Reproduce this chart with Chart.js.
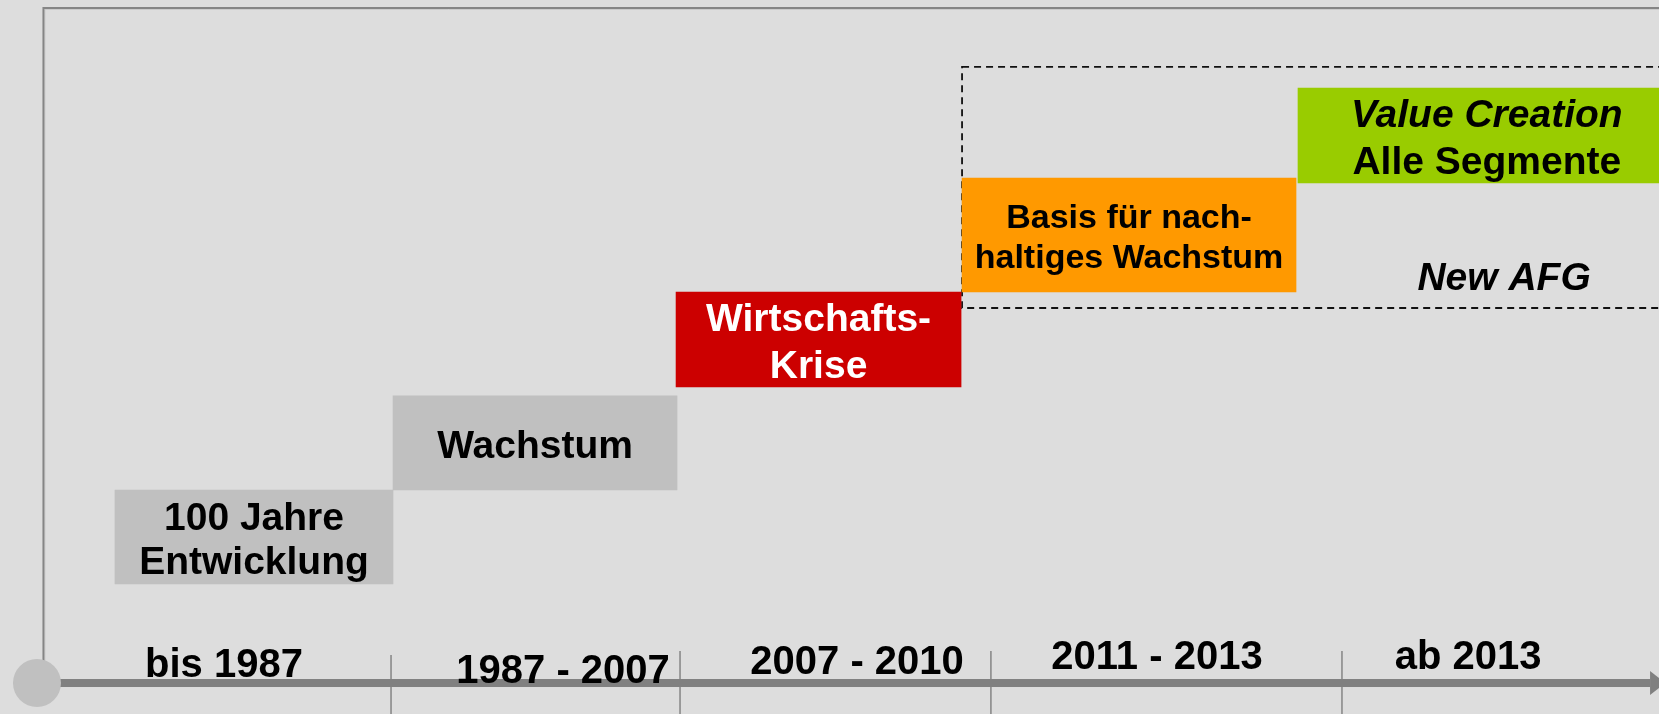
<!DOCTYPE html>
<html>
<head>
<meta charset="utf-8">
<script src="https://cdn.jsdelivr.net/npm/chart.js@4.4.1/dist/chart.umd.min.js"></script>
<style>
  html, body { margin: 0; padding: 0; background: #dddddd; overflow: hidden; }
  #timeline { display: block; }
</style>
</head>
<body>
<canvas id="timeline" width="1659" height="714"></canvas>
<script>
// all values in percent of the picture (x from left, y from bottom)
const phaseLines = [
    ['100 Jahre', 'Entwicklung'],
    ['Wachstum'],
    ['Wirtschafts-', 'Krise'],
    ['Basis für nach-', 'haltiges Wachstum'],
    ['Value Creation', 'Alle Segmente']
];
const phaseStart = [6.93, 23.69, 40.75, 57.99, 78.24];
const phaseEnd = [23.69, 40.81, 57.93, 78.12, 101];
const phaseLevel = [24.79, 37.96, 52.45, 67.09, 81.02];
const phaseHeight = [13.17, 13.17, 13.31, 15.97, 13.31];

const periods = ['bis 1987', '1987 - 2007', '2007 - 2010', '2011 - 2013', 'ab 2013'];
const periodX = [13.5, 33.94, 51.66, 69.74, 88.49];
const periodY = [5.18, 4.34, 5.6, 6.3, 6.3];
const periodBounds = [23.57, 40.99, 59.73, 80.89];
const boundTop = [8.26, 8.82, 8.82, 8.82];

const groupLabel = 'New AFG';
const groupX = 90.66, groupY = 59.38;
const groupBox = [57.99, 101, 56.86, 90.62]; // x0, x1, y0, y1

const axisLevel = 4.34, axisStart = 2.23, axisEnd = 99.46, arrowTip = 100.4;
const frameLeft = 2.62, frameTop = 98.88;

const phaseColors = ['#c0c0c0', '#c0c0c0', '#cc0000', '#ff9900', '#99cc00'];
const textColors = ['#000', '#000', '#fff', '#000', '#000'];
const fontSizes = [39, 39, 39, 34, 39];
const lineHeights = [44, 44, 47, 40, 47];
const FONT = 'Arial, "Liberation Sans", sans-serif';
const H = 714;

// Decorations behind the bars: frame, dashed group box, time axis
const backdrop = {
    id: 'backdrop',
    beforeDatasetsDraw(chart) {
        const ctx = chart.ctx;
        const xs = chart.scales.x, ys = chart.scales.y;
        const X = v => xs.getPixelForValue(v), Y = v => ys.getPixelForValue(v);
        ctx.save();

        // frame (top + left), with light inner edge
        const fl = X(frameLeft), ft = Y(frameTop), ay = Y(axisLevel);
        ctx.strokeStyle = '#cbcbcb';
        ctx.lineWidth = 1;
        ctx.beginPath();
        ctx.moveTo(fl + 1.5, ay); ctx.lineTo(fl + 1.5, ft + 1.5); ctx.lineTo(chart.width, ft + 1.5);
        ctx.stroke();
        ctx.strokeStyle = '#858585';
        ctx.lineWidth = 2;
        ctx.beginPath();
        ctx.moveTo(fl, ay); ctx.lineTo(fl, ft); ctx.lineTo(chart.width, ft);
        ctx.stroke();

        // dashed box around the last two phases
        ctx.strokeStyle = '#111';
        ctx.lineWidth = 1.8;
        ctx.setLineDash([7, 5]);
        ctx.strokeRect(X(groupBox[0]), Y(groupBox[3]), X(groupBox[1]) - X(groupBox[0]), Y(groupBox[2]) - Y(groupBox[3]));
        ctx.setLineDash([]);

        // period boundary marks
        ctx.strokeStyle = '#858585';
        ctx.lineWidth = 1.5;
        periodBounds.forEach((b, i) => {
            ctx.beginPath();
            ctx.moveTo(X(b), Y(boundTop[i]));
            ctx.lineTo(X(b), Y(0));
            ctx.stroke();
        });

        // axis arrow
        ctx.fillStyle = '#808080';
        ctx.fillRect(X(axisStart), ay - 4, X(axisEnd) - X(axisStart), 8);
        ctx.beginPath();
        ctx.moveTo(X(axisEnd), ay - 12);
        ctx.lineTo(X(arrowTip), ay);
        ctx.lineTo(X(axisEnd), ay + 12);
        ctx.closePath();
        ctx.fill();

        // start dot
        ctx.fillStyle = '#c0c0c0';
        ctx.beginPath();
        ctx.arc(X(axisStart), ay, 24, 0, Math.PI * 2);
        ctx.fill();

        ctx.restore();
    }
};

// Texts: phase captions in the bars, period labels, group label
const captions = {
    id: 'captions',
    afterDatasetsDraw(chart) {
        const ctx = chart.ctx;
        const xs = chart.scales.x, ys = chart.scales.y;
        ctx.save();
        ctx.textAlign = 'center';

        chart.data.datasets.forEach((ds, i) => {
            const bar = chart.getDatasetMeta(i).data[0];
            const cx = (bar.x + bar.base) / 2;
            const lines = phaseLines[i];
            ctx.fillStyle = textColors[i];
            ctx.textBaseline = 'middle';
            lines.forEach((line, j) => {
                const italic = (i === 4 && j === 0) ? 'italic ' : '';
                ctx.font = italic + 'bold ' + fontSizes[i] + 'px ' + FONT;
                const cy = bar.y + (j - (lines.length - 1) / 2) * lineHeights[i] + 4;
                ctx.fillText(line, cx, cy);
            });
        });

        ctx.fillStyle = '#000';
        ctx.textBaseline = 'alphabetic';
        ctx.font = 'bold 40px ' + FONT;
        periods.forEach((p, i) => {
            ctx.fillText(p, xs.getPixelForValue(periodX[i]), ys.getPixelForValue(periodY[i]));
        });

        ctx.font = 'italic bold 39px ' + FONT;
        ctx.fillText(groupLabel, xs.getPixelForValue(groupX), ys.getPixelForValue(groupY));
        ctx.restore();
    }
};

const datasets = phaseLines.map((lines, i) => ({
    label: lines.join(' '),
    data: [{ x: [phaseStart[i], phaseEnd[i]], y: phaseLevel[i] }],
    backgroundColor: phaseColors[i],
    borderWidth: 0,
    barThickness: phaseHeight[i] * H / 100,
    grouped: false
}));

new Chart(document.getElementById('timeline').getContext('2d'), {
    type: 'bar',
    data: { datasets: datasets },
    plugins: [backdrop, captions],
    options: {
        indexAxis: 'y',
        responsive: false,
        devicePixelRatio: 1,
        animation: false,
        layout: { padding: 0 },
        scales: {
            x: { type: 'linear', min: 0, max: 100, display: false, offset: false },
            y: { type: 'linear', min: 0, max: 100, display: false, offset: false }
        },
        plugins: {
            legend: { display: false },
            tooltip: { enabled: false }
        }
    }
});
</script>
</body>
</html>
